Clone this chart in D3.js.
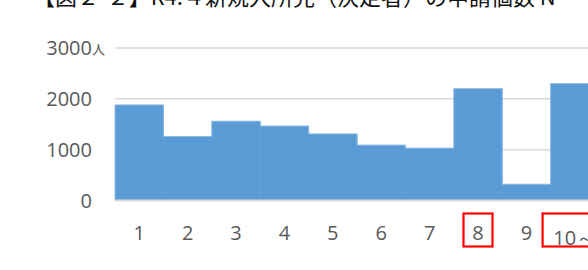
<!DOCTYPE html>
<html>
<head>
<meta charset="utf-8">
<script src="https://cdn.jsdelivr.net/npm/d3@7"></script>
<style>
  body { margin: 0; overflow: hidden; background: #fff; }
  svg { display: block; }
</style>
</head>
<body>
<div id="chart"></div>
<script>
// data
const title = '【図２-２】R4.４新規入所児（決定者）の申請個数 N';
const categories = ['1', '2', '3', '4', '5', '6', '7', '8', '9', '10～'];
const applicants = [1880, 1260, 1560, 1465, 1310, 1090, 1030, 2200, 320, 2300];
const yTicks = [0, 1000, 2000, 3000];
const highlighted = ['8', '10～'];

const width = 588, height = 270;
const margin = {top: 48, left: 115, bottom: 69};
const band = 48.4;

const svg = d3.select('#chart').append('svg')
  .attr('width', width)
  .attr('height', height);

// title (cut off at the top like the source)
svg.append('text')
  .attr('x', 33)
  .attr('y', 5)
  .style('font-family', '"Noto Sans CJK JP", "Noto Sans", sans-serif')
  .style('font-size', '22px')
  .style('fill', '#111')
  .text(title);

const x = d3.scaleBand()
  .domain(categories)
  .range([margin.left, margin.left + band * categories.length])
  .padding(0);

const y = d3.scaleLinear()
  .domain([0, 3000])
  .range([height - margin.bottom - 0.5, margin.top]);

// gridlines
svg.append('g')
  .selectAll('line')
  .data(yTicks.filter(d => d > 0))
  .join('line')
  .attr('x1', margin.left)
  .attr('x2', width)
  .attr('y1', d => y(d))
  .attr('y2', d => y(d))
  .style('stroke', '#d9d9d9')
  .style('stroke-width', 1.5);

// bars (no gap, so only the outer step outline shows)
svg.append('g')
  .selectAll('rect')
  .data(applicants)
  .join('rect')
  .attr('x', (d, i) => x(categories[i]))
  .attr('y', d => y(d))
  .attr('width', x.bandwidth() + 0.5)
  .attr('height', d => y(0) - y(d))
  .style('fill', '#5b9bd5');

const outline = d3.line()
  .x(d => d[0])
  .y(d => d[1]);

const pts = [[x(categories[0]), y(0)]];
applicants.forEach((v, i) => {
  pts.push([x(categories[i]), y(v)]);
  pts.push([x(categories[i]) + x.bandwidth(), y(v)]);
});

svg.append('path')
  .attr('d', outline(pts))
  .style('fill', 'none')
  .style('stroke', '#8dbae3')
  .style('stroke-width', 1);

// baseline
svg.append('line')
  .attr('x1', margin.left)
  .attr('x2', width)
  .attr('y1', y(0))
  .attr('y2', y(0))
  .style('stroke', '#d9d9d9')
  .style('stroke-width', 2);

const font = '"Open Sans", "Noto Sans", sans-serif';

// y axis labels
const yLabels = svg.append('g');
yLabels.selectAll('text')
  .data(yTicks)
  .join('text')
  .attr('x', 92)
  .attr('y', d => y(d))
  .attr('dy', '0.36em')
  .attr('text-anchor', 'end')
  .style('font-family', font)
  .style('font-size', '20px')
  .style('fill', '#595959')
  .text(d => d);

yLabels.append('text')
  .attr('x', 92)
  .attr('y', y(3000) + 6)
  .style('font-family', '"Noto Sans CJK JP", sans-serif')
  .style('font-size', '13px')
  .style('fill', '#595959')
  .text('人');

// x axis labels
svg.append('g')
  .selectAll('text')
  .data(categories)
  .join('text')
  .attr('x', d => x(d) + x.bandwidth() / 2)
  .attr('y', d => d === '10～' ? 245 : 239.5)
  .attr('text-anchor', 'middle')
  .style('font-family', font)
  .style('font-size', '20px')
  .style('fill', '#595959')
  .text(d => d);

// red highlight boxes
svg.append('g')
  .selectAll('rect')
  .data(highlighted)
  .join('rect')
  .attr('x', d => x(d) + (d === '10～' ? -8 : 1.5 + x.bandwidth() / 2 - 16))
  .attr('y', 213.5)
  .attr('width', d => d === '10～' ? 60 : 29)
  .attr('height', 33)
  .style('fill', 'none')
  .style('stroke', '#ff0000')
  .style('stroke-width', 2.2);
</script>
</body>
</html>
